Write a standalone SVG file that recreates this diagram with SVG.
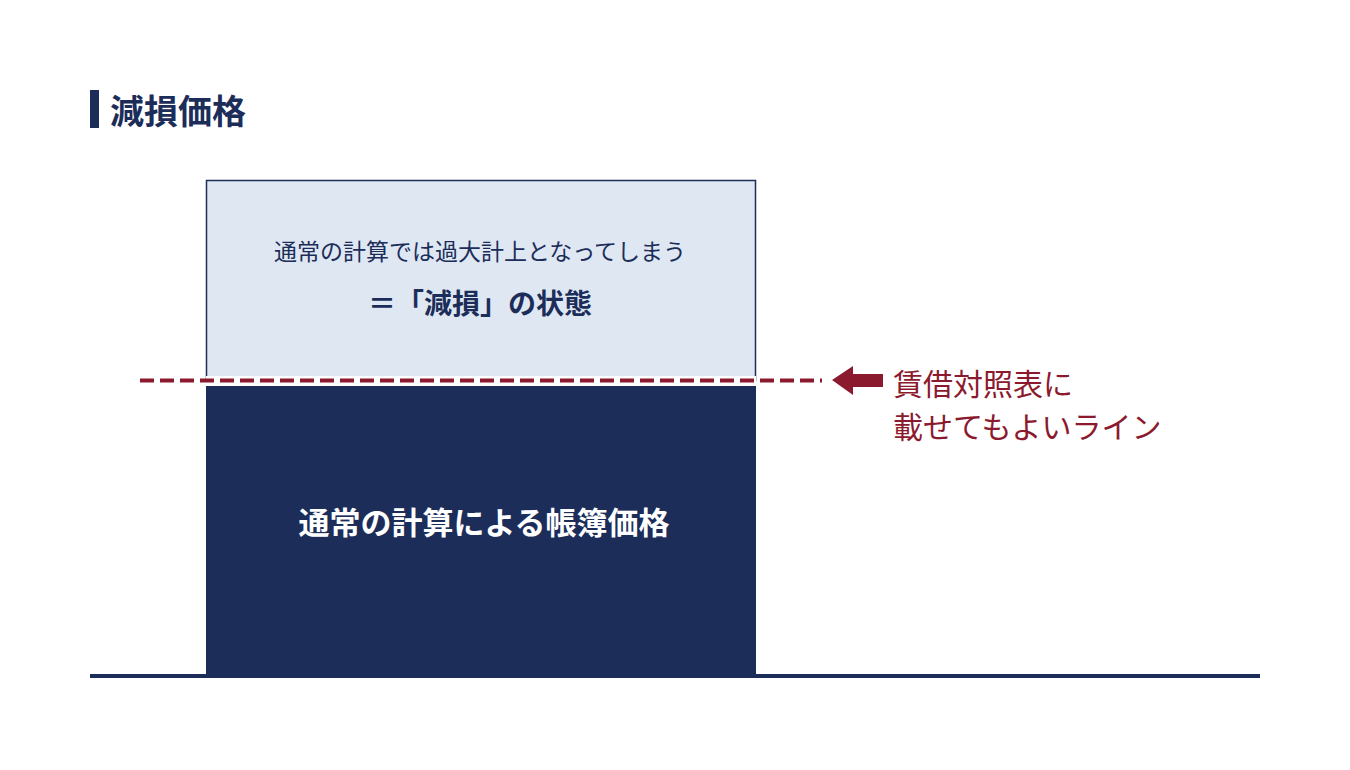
<svg xmlns="http://www.w3.org/2000/svg" width="1350" height="770" viewBox="0 0 1350 770">
<style>
text{font-family:"Noto Sans CJK JP","Noto Sans",sans-serif}
.n{fill:#1c2d5a}.r{fill:#8b1a2e}
</style>
<rect width="1350" height="770" fill="#fff"/>
<g id="title"><rect x="90" y="90" width="9" height="38" class="n"/><text x="110" y="124" font-size="34" font-weight="bold" class="n">減損価格</text></g>
<g id="upper"><rect x="206.5" y="180.5" width="549" height="200" fill="#dfe8f2" stroke="#1c2d5a" stroke-width="1.5"/>
<text x="480" y="260" font-size="23" text-anchor="middle" class="n">通常の計算では過大計上となってしまう</text>
<text x="480" y="314" font-size="28" font-weight="bold" text-anchor="middle" class="n">＝「減損」の状態</text></g>
<g id="lower"><rect x="206" y="376" width="550" height="10" fill="#fff"/><rect x="206" y="386" width="550" height="290" class="n"/>
<text x="484" y="534" font-size="31" font-weight="bold" text-anchor="middle" fill="#fff">通常の計算による帳簿価格</text></g>
<g id="connectors"><line x1="90" y1="676" x2="1260" y2="676" stroke="#1c2d5a" stroke-width="4"/>
<line x1="140" y1="380.5" x2="822" y2="380.5" stroke="#8b1a2e" stroke-width="4" stroke-dasharray="14 6"/>
<polygon points="832,380 853,366 853,374 883,374 883,387 853,387 853,395" class="r"/></g>
<g id="label"><text x="893" y="395" font-size="30" class="r">賃借対照表に</text><text x="893" y="438" font-size="30" class="r">載せてもよいライン</text></g>
</svg>
